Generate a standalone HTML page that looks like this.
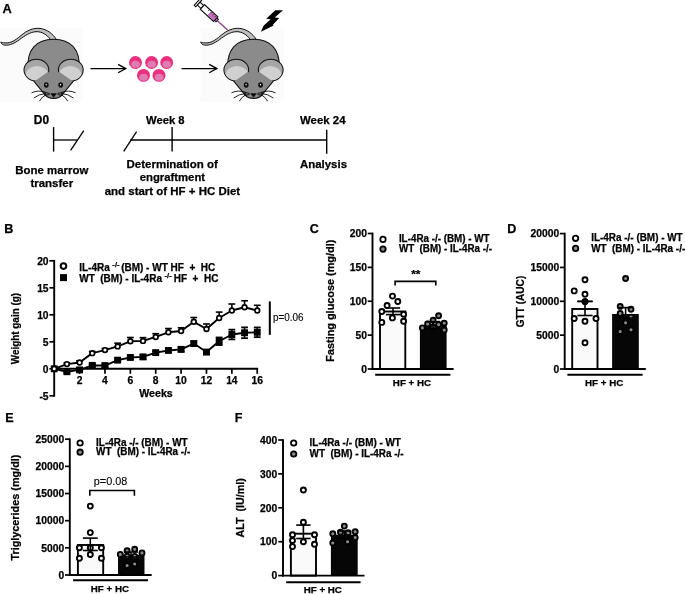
<!DOCTYPE html>
<html><head><meta charset="utf-8"><title>Figure</title>
<style>html,body{margin:0;padding:0;background:#fff;width:685px;height:594px;overflow:hidden}svg{display:block}text[font-weight="bold"]{stroke:#000;stroke-width:0.25px}text[font-weight="normal"]{stroke:#000;stroke-width:0.12px}</style>
</head><body>
<svg width="685" height="594" viewBox="0 0 685 594" font-family="'Liberation Sans', Arial, sans-serif">
<rect width="685" height="594" fill="#fff"/>
<text x="2.6" y="12.7" font-size="12.8" font-weight="bold" text-anchor="start" >A</text>
<rect x="0" y="28.3" width="82.7" height="73.5" fill="#fbfbfb"/><g transform="translate(0,0)"><path d="M56.5,39.6 C53,34 47,29.2 40,28.4 C33,27.7 27,30.5 21,35.5 C15,40.5 11,43.3 5,42.9 C3,42.8 1.6,42.4 0.8,42.1 C1.3,43.8 2.8,44.9 4.5,45.1 C10,45.7 14.5,43.2 19.6,39.6 C25.2,35.5 30,32.1 36,31.7 C42,31.4 46.8,34.6 50.6,39.6 Z" fill="#bfbfbf" stroke="#111" stroke-width="1"/><path d="M28,70 C26.3,49.5 36.5,39.2 53.6,39.2 C70.7,39.2 80.9,49.5 79.2,70 L53.6,98 Z" fill="#8b8b8b" stroke="#111" stroke-width="1.05"/><ellipse cx="36.4" cy="70.1" rx="12.4" ry="10.9" fill="#a6a6a6" stroke="#111" stroke-width="1.05"/><clipPath id="ec01"><ellipse cx="36.4" cy="70.1" rx="11.9" ry="10.4"/></clipPath><ellipse cx="37.0" cy="75.2" rx="11.4" ry="9.2" fill="#d0d0d0" clip-path="url(#ec01)"/><ellipse cx="70.8" cy="70.1" rx="12.4" ry="10.9" fill="#a6a6a6" stroke="#111" stroke-width="1.05"/><clipPath id="ec0-1"><ellipse cx="70.8" cy="70.1" rx="11.9" ry="10.4"/></clipPath><ellipse cx="70.2" cy="75.2" rx="11.4" ry="9.2" fill="#d0d0d0" clip-path="url(#ec0-1)"/><path d="M34.2,81.6 L47.4,72.2 L59.8,72.2 L73,81.6 L62.3,94.6 C58.5,99.6 48.7,99.6 44.9,94.6 Z" fill="#888"/><path d="M33.6,80.9 L44.9,94.6 C48.7,99.6 58.5,99.6 62.3,94.6 L73.6,80.9" fill="none" stroke="#111" stroke-width="1.05"/><ellipse cx="46.3" cy="85" rx="2.35" ry="2.75" fill="#0a0a0a"/><ellipse cx="46.199999999999996" cy="84.6" rx="0.6" ry="0.9" fill="#fff"/><ellipse cx="60.7" cy="85" rx="2.35" ry="2.75" fill="#0a0a0a"/><ellipse cx="60.6" cy="84.6" rx="0.6" ry="0.9" fill="#fff"/><path d="M50.8,93.6 L56.4,93.6 L54.2,96.6 C53.9,97.1 53.3,97.1 53,96.6 Z" fill="#0a0a0a" stroke="#0a0a0a" stroke-width="0.5" stroke-linejoin="round"/><path d="M45.6,92.4 Q38.6,89.6 31.6,92.8 M46.0,93.5 Q39.1,93.8 33.8,98 M46.4,94.5 Q42.0,96.5 39.4,101.2 M49.6,93.4 L44.6,92.4 M49.6,94.5 L44.6,95.4 M61.6,92.4 Q68.6,89.6 75.6,92.8 M61.2,93.5 Q68.1,93.8 73.4,98 M60.8,94.5 Q65.2,96.5 67.8,101.2 M57.6,93.4 L62.6,92.4 M57.6,94.5 L62.6,95.4" fill="none" stroke="#000" stroke-width="0.85"/></g>
<rect x="200.5" y="28.3" width="83.10000000000002" height="73.5" fill="#fbfbfb"/><g transform="translate(199.9,0)"><path d="M56.5,39.6 C53,34 47,29.2 40,28.4 C33,27.7 27,30.5 21,35.5 C15,40.5 11,43.3 5,42.9 C3,42.8 1.6,42.4 0.8,42.1 C1.3,43.8 2.8,44.9 4.5,45.1 C10,45.7 14.5,43.2 19.6,39.6 C25.2,35.5 30,32.1 36,31.7 C42,31.4 46.8,34.6 50.6,39.6 Z" fill="#bfbfbf" stroke="#111" stroke-width="1"/><path d="M28,70 C26.3,49.5 36.5,39.2 53.6,39.2 C70.7,39.2 80.9,49.5 79.2,70 L53.6,98 Z" fill="#8b8b8b" stroke="#111" stroke-width="1.05"/><ellipse cx="36.4" cy="70.1" rx="12.4" ry="10.9" fill="#a6a6a6" stroke="#111" stroke-width="1.05"/><clipPath id="ec199.91"><ellipse cx="36.4" cy="70.1" rx="11.9" ry="10.4"/></clipPath><ellipse cx="37.0" cy="75.2" rx="11.4" ry="9.2" fill="#d0d0d0" clip-path="url(#ec199.91)"/><ellipse cx="70.8" cy="70.1" rx="12.4" ry="10.9" fill="#a6a6a6" stroke="#111" stroke-width="1.05"/><clipPath id="ec199.9-1"><ellipse cx="70.8" cy="70.1" rx="11.9" ry="10.4"/></clipPath><ellipse cx="70.2" cy="75.2" rx="11.4" ry="9.2" fill="#d0d0d0" clip-path="url(#ec199.9-1)"/><path d="M34.2,81.6 L47.4,72.2 L59.8,72.2 L73,81.6 L62.3,94.6 C58.5,99.6 48.7,99.6 44.9,94.6 Z" fill="#888"/><path d="M33.6,80.9 L44.9,94.6 C48.7,99.6 58.5,99.6 62.3,94.6 L73.6,80.9" fill="none" stroke="#111" stroke-width="1.05"/><ellipse cx="46.3" cy="85" rx="2.35" ry="2.75" fill="#0a0a0a"/><ellipse cx="46.199999999999996" cy="84.6" rx="0.6" ry="0.9" fill="#fff"/><ellipse cx="60.7" cy="85" rx="2.35" ry="2.75" fill="#0a0a0a"/><ellipse cx="60.6" cy="84.6" rx="0.6" ry="0.9" fill="#fff"/><path d="M50.8,93.6 L56.4,93.6 L54.2,96.6 C53.9,97.1 53.3,97.1 53,96.6 Z" fill="#0a0a0a" stroke="#0a0a0a" stroke-width="0.5" stroke-linejoin="round"/><path d="M45.6,92.4 Q38.6,89.6 31.6,92.8 M46.0,93.5 Q39.1,93.8 33.8,98 M46.4,94.5 Q42.0,96.5 39.4,101.2 M49.6,93.4 L44.6,92.4 M49.6,94.5 L44.6,95.4 M61.6,92.4 Q68.6,89.6 75.6,92.8 M61.2,93.5 Q68.1,93.8 73.4,98 M60.8,94.5 Q65.2,96.5 67.8,101.2 M57.6,93.4 L62.6,92.4 M57.6,94.5 L62.6,95.4" fill="none" stroke="#000" stroke-width="0.85"/></g>
<line x1="90.5" y1="68.6" x2="125.8" y2="68.6" stroke="#000" stroke-width="1.3" stroke-linecap="butt"/>
<path d="M118.1,64.39999999999999 L125.8,68.6 L118.1,72.8" fill="none" stroke="#000" stroke-width="1.3" stroke-linejoin="miter"/>
<line x1="181.6" y1="68.6" x2="216.9" y2="68.6" stroke="#000" stroke-width="1.3" stroke-linecap="butt"/>
<path d="M209.20000000000002,64.39999999999999 L216.9,68.6 L209.20000000000002,72.8" fill="none" stroke="#000" stroke-width="1.3" stroke-linejoin="miter"/>
<circle cx="135.5" cy="62.5" r="6.45" fill="#e9307f"/>
<ellipse cx="135.6" cy="64.3" rx="4.3" ry="3.5" fill="#df7cb1"/>
<circle cx="151.6" cy="62.5" r="6.45" fill="#e9307f"/>
<ellipse cx="151.7" cy="64.3" rx="4.3" ry="3.5" fill="#df7cb1"/>
<circle cx="166.7" cy="62.5" r="6.45" fill="#e9307f"/>
<ellipse cx="166.79999999999998" cy="64.3" rx="4.3" ry="3.5" fill="#df7cb1"/>
<circle cx="143.5" cy="75.4" r="6.45" fill="#e9307f"/>
<ellipse cx="143.6" cy="77.2" rx="4.3" ry="3.5" fill="#df7cb1"/>
<circle cx="159" cy="75.4" r="6.45" fill="#e9307f"/>
<ellipse cx="159.1" cy="77.2" rx="4.3" ry="3.5" fill="#df7cb1"/>
<g transform="translate(209,13.05) rotate(42.5)"><line x1="11" y1="0" x2="25.2" y2="0" stroke="#8b3f86" stroke-width="1.3"/><rect x="-16.2" y="-4.3" width="2.2" height="8.6" fill="#fff" stroke="#111" stroke-width="1.1"/><rect x="-14" y="-2" width="5" height="4" fill="#fff" stroke="#111" stroke-width="1.1"/><rect x="-9" y="-3.1" width="18" height="6.2" fill="#fff" stroke="#111" stroke-width="1.2"/><rect x="0.6" y="-2.5" width="7.8" height="5" fill="#c66bbd"/><path d="M-2,-2.5 L-2,-0.8 M1.2,-2.5 L1.2,-0.8 M4.2,-2.5 L4.2,-0.8 M7,-2.5 L7,-0.8" stroke="#222" stroke-width="0.7"/><rect x="9" y="-1.7" width="2.2" height="3.4" fill="#c66bbd" stroke="#111" stroke-width="1"/></g>
<path d="M275.33,10.19 L282.99,10.19 L274.74,17.49 L279.16,18.08 L272.68,24.92 L273.74,25.45 L260.89,31.81 L263.54,25.74 L270.62,19.14 L266.2,18.67 Z" fill="#000"/>
<text x="33.8" y="124.2" font-size="11.9" font-weight="bold" text-anchor="start" textLength="15.2" lengthAdjust="spacingAndGlyphs" >D0</text>
<line x1="53.6" y1="127.1" x2="53.6" y2="151.6" stroke="#000" stroke-width="1.4" stroke-linecap="butt"/>
<line x1="53.6" y1="140" x2="77" y2="140" stroke="#000" stroke-width="1.3" stroke-linecap="butt"/>
<line x1="70.6" y1="150.3" x2="83.8" y2="130.6" stroke="#000" stroke-width="1.3" stroke-linecap="butt"/>
<line x1="123.7" y1="151.3" x2="136.6" y2="131.6" stroke="#000" stroke-width="1.3" stroke-linecap="butt"/>
<line x1="130.2" y1="140" x2="326.7" y2="140" stroke="#000" stroke-width="1.3" stroke-linecap="butt"/>
<line x1="172.1" y1="127.1" x2="172.1" y2="151.6" stroke="#000" stroke-width="1.4" stroke-linecap="butt"/>
<line x1="326.7" y1="129.8" x2="326.7" y2="153.7" stroke="#000" stroke-width="1.4" stroke-linecap="butt"/>
<text x="146" y="123.9" font-size="11.3" font-weight="bold" text-anchor="start" textLength="38.6" lengthAdjust="spacingAndGlyphs" >Week 8</text>
<text x="300" y="124.1" font-size="11.3" font-weight="bold" text-anchor="start" textLength="45.5" lengthAdjust="spacingAndGlyphs" >Week 24</text>
<text x="51.8" y="174.1" font-size="11.3" font-weight="bold" text-anchor="middle" textLength="73" lengthAdjust="spacingAndGlyphs" >Bone marrow</text>
<text x="51.8" y="187.1" font-size="11.3" font-weight="bold" text-anchor="middle" textLength="42.7" lengthAdjust="spacingAndGlyphs" >transfer</text>
<text x="172.2" y="168.3" font-size="11.3" font-weight="bold" text-anchor="middle" textLength="91.3" lengthAdjust="spacingAndGlyphs" >Determination of</text>
<text x="172.4" y="180.8" font-size="11.3" font-weight="bold" text-anchor="middle" textLength="65.3" lengthAdjust="spacingAndGlyphs" >engraftment</text>
<text x="172.4" y="194.7" font-size="11.3" font-weight="bold" text-anchor="middle" textLength="135.4" lengthAdjust="spacingAndGlyphs" >and start of HF + HC Diet</text>
<text x="323.5" y="167.6" font-size="11.3" font-weight="bold" text-anchor="middle" textLength="47" lengthAdjust="spacingAndGlyphs" >Analysis</text>
<text x="4.2" y="232.6" font-size="12.6" font-weight="bold" text-anchor="start" >B</text>
<line x1="54.2" y1="259.95" x2="54.2" y2="396.75" stroke="#000" stroke-width="1.9" stroke-linecap="butt"/>
<line x1="49.400000000000006" y1="260.8" x2="54.2" y2="260.8" stroke="#000" stroke-width="1.7" stroke-linecap="butt"/>
<text x="48.6" y="264.5" font-size="10.3" font-weight="bold" text-anchor="end" >20</text>
<line x1="49.400000000000006" y1="287.8" x2="54.2" y2="287.8" stroke="#000" stroke-width="1.7" stroke-linecap="butt"/>
<text x="48.6" y="291.5" font-size="10.3" font-weight="bold" text-anchor="end" >15</text>
<line x1="49.400000000000006" y1="314.8" x2="54.2" y2="314.8" stroke="#000" stroke-width="1.7" stroke-linecap="butt"/>
<text x="48.6" y="318.5" font-size="10.3" font-weight="bold" text-anchor="end" >10</text>
<line x1="49.400000000000006" y1="341.8" x2="54.2" y2="341.8" stroke="#000" stroke-width="1.7" stroke-linecap="butt"/>
<text x="48.6" y="345.5" font-size="10.3" font-weight="bold" text-anchor="end" >5</text>
<line x1="49.400000000000006" y1="368.8" x2="54.2" y2="368.8" stroke="#000" stroke-width="1.7" stroke-linecap="butt"/>
<text x="48.6" y="372.5" font-size="10.3" font-weight="bold" text-anchor="end" >0</text>
<line x1="49.400000000000006" y1="395.8" x2="54.2" y2="395.8" stroke="#000" stroke-width="1.7" stroke-linecap="butt"/>
<text x="48.6" y="399.5" font-size="10.3" font-weight="bold" text-anchor="end" >-5</text>
<line x1="53.25" y1="368.8" x2="258.14" y2="368.8" stroke="#000" stroke-width="2.0" stroke-linecap="butt"/>
<line x1="79.58" y1="368.8" x2="79.58" y2="373.8" stroke="#000" stroke-width="1.7" stroke-linecap="butt"/>
<text x="79.58" y="383.8" font-size="10.3" font-weight="bold" text-anchor="middle" >2</text>
<line x1="104.96" y1="368.8" x2="104.96" y2="373.8" stroke="#000" stroke-width="1.7" stroke-linecap="butt"/>
<text x="104.96" y="383.8" font-size="10.3" font-weight="bold" text-anchor="middle" >4</text>
<line x1="130.34" y1="368.8" x2="130.34" y2="373.8" stroke="#000" stroke-width="1.7" stroke-linecap="butt"/>
<text x="130.34" y="383.8" font-size="10.3" font-weight="bold" text-anchor="middle" >6</text>
<line x1="155.72" y1="368.8" x2="155.72" y2="373.8" stroke="#000" stroke-width="1.7" stroke-linecap="butt"/>
<text x="155.72" y="383.8" font-size="10.3" font-weight="bold" text-anchor="middle" >8</text>
<line x1="181.1" y1="368.8" x2="181.1" y2="373.8" stroke="#000" stroke-width="1.7" stroke-linecap="butt"/>
<text x="181.1" y="383.8" font-size="10.3" font-weight="bold" text-anchor="middle" >10</text>
<line x1="206.48" y1="368.8" x2="206.48" y2="373.8" stroke="#000" stroke-width="1.7" stroke-linecap="butt"/>
<text x="206.48" y="383.8" font-size="10.3" font-weight="bold" text-anchor="middle" >12</text>
<line x1="231.86" y1="368.8" x2="231.86" y2="373.8" stroke="#000" stroke-width="1.7" stroke-linecap="butt"/>
<text x="231.86" y="383.8" font-size="10.3" font-weight="bold" text-anchor="middle" >14</text>
<line x1="257.24" y1="368.8" x2="257.24" y2="373.8" stroke="#000" stroke-width="1.7" stroke-linecap="butt"/>
<text x="257.24" y="383.8" font-size="10.3" font-weight="bold" text-anchor="middle" >16</text>
<text x="156" y="397.2" font-size="10.6" font-weight="bold" text-anchor="middle" textLength="33.5" lengthAdjust="spacingAndGlyphs" >Weeks</text>
<text transform="translate(18.8,328.6) rotate(-90)" x="0" y="0" font-size="11.2" font-weight="bold" text-anchor="middle" textLength="71.4" lengthAdjust="spacingAndGlyphs">Weight gain (g)</text>
<polyline points="54.2,368.8 66.89,371.72 79.58,369.88 92.27,365.4 104.96,365.56 117.65,360.16 130.34,357.46 143.03,356.92 155.72,352.6 168.41,350.44 181.1,349.36 193.79,343.58 206.48,352.06 219.17,341.26 231.86,334.51 244.55,332.78 257.24,332.3" fill="none" stroke="#000" stroke-width="1.9" stroke-linejoin="round"/>
<polyline points="54.2,368.8 66.89,364.1 79.58,362.48 92.27,353.14 104.96,350.12 117.65,346.39 130.34,341.26 143.03,340.88 155.72,336.94 168.41,332.3 181.1,331.0 193.79,321.82 206.48,329.0 219.17,318.04 231.86,310.48 244.55,307.24 257.24,310.48" fill="none" stroke="#000" stroke-width="1.9" stroke-linejoin="round"/>
<rect x="50.75" y="365.35" width="6.9" height="6.9" fill="#000"/>
<line x1="66.89" y1="370.64" x2="66.89" y2="372.8" stroke="#000" stroke-width="1.6" stroke-linecap="butt"/>
<line x1="63.49" y1="370.64" x2="70.29" y2="370.64" stroke="#000" stroke-width="1.8" stroke-linecap="butt"/>
<line x1="63.49" y1="372.8" x2="70.29" y2="372.8" stroke="#000" stroke-width="1.8" stroke-linecap="butt"/>
<rect x="63.44" y="368.27" width="6.9" height="6.9" fill="#000"/>
<line x1="79.58" y1="368.8" x2="79.58" y2="370.96" stroke="#000" stroke-width="1.6" stroke-linecap="butt"/>
<line x1="76.17999999999999" y1="368.8" x2="82.98" y2="368.8" stroke="#000" stroke-width="1.8" stroke-linecap="butt"/>
<line x1="76.17999999999999" y1="370.96" x2="82.98" y2="370.96" stroke="#000" stroke-width="1.8" stroke-linecap="butt"/>
<rect x="76.13" y="366.43" width="6.9" height="6.9" fill="#000"/>
<line x1="92.27" y1="363.78" x2="92.27" y2="367.02" stroke="#000" stroke-width="1.6" stroke-linecap="butt"/>
<line x1="88.86999999999999" y1="363.78" x2="95.67" y2="363.78" stroke="#000" stroke-width="1.8" stroke-linecap="butt"/>
<line x1="88.86999999999999" y1="367.02" x2="95.67" y2="367.02" stroke="#000" stroke-width="1.8" stroke-linecap="butt"/>
<rect x="88.82" y="361.95" width="6.9" height="6.9" fill="#000"/>
<line x1="104.96" y1="363.94" x2="104.96" y2="367.18" stroke="#000" stroke-width="1.6" stroke-linecap="butt"/>
<line x1="101.55999999999999" y1="363.94" x2="108.36" y2="363.94" stroke="#000" stroke-width="1.8" stroke-linecap="butt"/>
<line x1="101.55999999999999" y1="367.18" x2="108.36" y2="367.18" stroke="#000" stroke-width="1.8" stroke-linecap="butt"/>
<rect x="101.51" y="362.11" width="6.9" height="6.9" fill="#000"/>
<line x1="117.65" y1="358.54" x2="117.65" y2="361.78" stroke="#000" stroke-width="1.6" stroke-linecap="butt"/>
<line x1="114.25" y1="358.54" x2="121.05000000000001" y2="358.54" stroke="#000" stroke-width="1.8" stroke-linecap="butt"/>
<line x1="114.25" y1="361.78" x2="121.05000000000001" y2="361.78" stroke="#000" stroke-width="1.8" stroke-linecap="butt"/>
<rect x="114.2" y="356.71" width="6.9" height="6.9" fill="#000"/>
<line x1="130.34" y1="355.84" x2="130.34" y2="359.08" stroke="#000" stroke-width="1.6" stroke-linecap="butt"/>
<line x1="126.94" y1="355.84" x2="133.74" y2="355.84" stroke="#000" stroke-width="1.8" stroke-linecap="butt"/>
<line x1="126.94" y1="359.08" x2="133.74" y2="359.08" stroke="#000" stroke-width="1.8" stroke-linecap="butt"/>
<rect x="126.89" y="354.01" width="6.9" height="6.9" fill="#000"/>
<line x1="143.03" y1="354.76" x2="143.03" y2="359.08" stroke="#000" stroke-width="1.6" stroke-linecap="butt"/>
<line x1="139.63" y1="354.76" x2="146.43" y2="354.76" stroke="#000" stroke-width="1.8" stroke-linecap="butt"/>
<line x1="139.63" y1="359.08" x2="146.43" y2="359.08" stroke="#000" stroke-width="1.8" stroke-linecap="butt"/>
<rect x="139.58" y="353.47" width="6.9" height="6.9" fill="#000"/>
<line x1="155.72" y1="350.98" x2="155.72" y2="354.22" stroke="#000" stroke-width="1.6" stroke-linecap="butt"/>
<line x1="152.32" y1="350.98" x2="159.12" y2="350.98" stroke="#000" stroke-width="1.8" stroke-linecap="butt"/>
<line x1="152.32" y1="354.22" x2="159.12" y2="354.22" stroke="#000" stroke-width="1.8" stroke-linecap="butt"/>
<rect x="152.27" y="349.15" width="6.9" height="6.9" fill="#000"/>
<line x1="168.41" y1="348.82" x2="168.41" y2="352.06" stroke="#000" stroke-width="1.6" stroke-linecap="butt"/>
<line x1="165.01" y1="348.82" x2="171.81" y2="348.82" stroke="#000" stroke-width="1.8" stroke-linecap="butt"/>
<line x1="165.01" y1="352.06" x2="171.81" y2="352.06" stroke="#000" stroke-width="1.8" stroke-linecap="butt"/>
<rect x="164.96" y="346.99" width="6.9" height="6.9" fill="#000"/>
<line x1="181.1" y1="347.2" x2="181.1" y2="351.52" stroke="#000" stroke-width="1.6" stroke-linecap="butt"/>
<line x1="177.7" y1="347.2" x2="184.5" y2="347.2" stroke="#000" stroke-width="1.8" stroke-linecap="butt"/>
<line x1="177.7" y1="351.52" x2="184.5" y2="351.52" stroke="#000" stroke-width="1.8" stroke-linecap="butt"/>
<rect x="177.65" y="345.91" width="6.9" height="6.9" fill="#000"/>
<line x1="193.79" y1="341.42" x2="193.79" y2="345.74" stroke="#000" stroke-width="1.6" stroke-linecap="butt"/>
<line x1="190.39" y1="341.42" x2="197.19" y2="341.42" stroke="#000" stroke-width="1.8" stroke-linecap="butt"/>
<line x1="190.39" y1="345.74" x2="197.19" y2="345.74" stroke="#000" stroke-width="1.8" stroke-linecap="butt"/>
<rect x="190.34" y="340.13" width="6.9" height="6.9" fill="#000"/>
<line x1="206.48" y1="349.9" x2="206.48" y2="354.22" stroke="#000" stroke-width="1.6" stroke-linecap="butt"/>
<line x1="203.07999999999998" y1="349.9" x2="209.88" y2="349.9" stroke="#000" stroke-width="1.8" stroke-linecap="butt"/>
<line x1="203.07999999999998" y1="354.22" x2="209.88" y2="354.22" stroke="#000" stroke-width="1.8" stroke-linecap="butt"/>
<rect x="203.03" y="348.61" width="6.9" height="6.9" fill="#000"/>
<line x1="219.17" y1="337.48" x2="219.17" y2="345.04" stroke="#000" stroke-width="1.6" stroke-linecap="butt"/>
<line x1="215.76999999999998" y1="337.48" x2="222.57" y2="337.48" stroke="#000" stroke-width="1.8" stroke-linecap="butt"/>
<line x1="215.76999999999998" y1="345.04" x2="222.57" y2="345.04" stroke="#000" stroke-width="1.8" stroke-linecap="butt"/>
<rect x="215.72" y="337.81" width="6.9" height="6.9" fill="#000"/>
<line x1="231.86" y1="329.65" x2="231.86" y2="339.37" stroke="#000" stroke-width="1.6" stroke-linecap="butt"/>
<line x1="228.46" y1="329.65" x2="235.26000000000002" y2="329.65" stroke="#000" stroke-width="1.8" stroke-linecap="butt"/>
<line x1="228.46" y1="339.37" x2="235.26000000000002" y2="339.37" stroke="#000" stroke-width="1.8" stroke-linecap="butt"/>
<rect x="228.41" y="331.06" width="6.9" height="6.9" fill="#000"/>
<line x1="244.55" y1="327.38" x2="244.55" y2="338.18" stroke="#000" stroke-width="1.6" stroke-linecap="butt"/>
<line x1="241.15" y1="327.38" x2="247.95000000000002" y2="327.38" stroke="#000" stroke-width="1.8" stroke-linecap="butt"/>
<line x1="241.15" y1="338.18" x2="247.95000000000002" y2="338.18" stroke="#000" stroke-width="1.8" stroke-linecap="butt"/>
<rect x="241.1" y="329.33" width="6.9" height="6.9" fill="#000"/>
<line x1="257.24" y1="327.44" x2="257.24" y2="337.16" stroke="#000" stroke-width="1.6" stroke-linecap="butt"/>
<line x1="253.84" y1="327.44" x2="260.64" y2="327.44" stroke="#000" stroke-width="1.8" stroke-linecap="butt"/>
<line x1="253.84" y1="337.16" x2="260.64" y2="337.16" stroke="#000" stroke-width="1.8" stroke-linecap="butt"/>
<rect x="253.79" y="328.85" width="6.9" height="6.9" fill="#000"/>
<circle cx="54.2" cy="368.8" r="2.35" fill="#fff" stroke="#000" stroke-width="1.7"/>
<line x1="66.89" y1="363.02" x2="66.89" y2="364.1" stroke="#000" stroke-width="1.6" stroke-linecap="butt"/>
<line x1="63.49" y1="363.02" x2="70.29" y2="363.02" stroke="#000" stroke-width="1.6" stroke-linecap="butt"/>
<circle cx="66.89" cy="364.1" r="2.35" fill="#fff" stroke="#000" stroke-width="1.7"/>
<line x1="79.58" y1="360.86" x2="79.58" y2="362.48" stroke="#000" stroke-width="1.6" stroke-linecap="butt"/>
<line x1="76.17999999999999" y1="360.86" x2="82.98" y2="360.86" stroke="#000" stroke-width="1.6" stroke-linecap="butt"/>
<circle cx="79.58" cy="362.48" r="2.35" fill="#fff" stroke="#000" stroke-width="1.7"/>
<line x1="92.27" y1="351.52" x2="92.27" y2="353.14" stroke="#000" stroke-width="1.6" stroke-linecap="butt"/>
<line x1="88.86999999999999" y1="351.52" x2="95.67" y2="351.52" stroke="#000" stroke-width="1.6" stroke-linecap="butt"/>
<circle cx="92.27" cy="353.14" r="2.35" fill="#fff" stroke="#000" stroke-width="1.7"/>
<line x1="104.96" y1="348.5" x2="104.96" y2="350.12" stroke="#000" stroke-width="1.6" stroke-linecap="butt"/>
<line x1="101.55999999999999" y1="348.5" x2="108.36" y2="348.5" stroke="#000" stroke-width="1.6" stroke-linecap="butt"/>
<circle cx="104.96" cy="350.12" r="2.35" fill="#fff" stroke="#000" stroke-width="1.7"/>
<line x1="117.65" y1="343.15" x2="117.65" y2="346.39" stroke="#000" stroke-width="1.6" stroke-linecap="butt"/>
<line x1="114.25" y1="343.15" x2="121.05000000000001" y2="343.15" stroke="#000" stroke-width="1.6" stroke-linecap="butt"/>
<circle cx="117.65" cy="346.39" r="2.35" fill="#fff" stroke="#000" stroke-width="1.7"/>
<line x1="130.34" y1="337.48" x2="130.34" y2="341.26" stroke="#000" stroke-width="1.6" stroke-linecap="butt"/>
<line x1="126.94" y1="337.48" x2="133.74" y2="337.48" stroke="#000" stroke-width="1.6" stroke-linecap="butt"/>
<circle cx="130.34" cy="341.26" r="2.35" fill="#fff" stroke="#000" stroke-width="1.7"/>
<line x1="143.03" y1="337.64" x2="143.03" y2="340.88" stroke="#000" stroke-width="1.6" stroke-linecap="butt"/>
<line x1="139.63" y1="337.64" x2="146.43" y2="337.64" stroke="#000" stroke-width="1.6" stroke-linecap="butt"/>
<circle cx="143.03" cy="340.88" r="2.35" fill="#fff" stroke="#000" stroke-width="1.7"/>
<line x1="155.72" y1="333.7" x2="155.72" y2="336.94" stroke="#000" stroke-width="1.6" stroke-linecap="butt"/>
<line x1="152.32" y1="333.7" x2="159.12" y2="333.7" stroke="#000" stroke-width="1.6" stroke-linecap="butt"/>
<circle cx="155.72" cy="336.94" r="2.35" fill="#fff" stroke="#000" stroke-width="1.7"/>
<line x1="168.41" y1="328.52" x2="168.41" y2="332.3" stroke="#000" stroke-width="1.6" stroke-linecap="butt"/>
<line x1="165.01" y1="328.52" x2="171.81" y2="328.52" stroke="#000" stroke-width="1.6" stroke-linecap="butt"/>
<circle cx="168.41" cy="332.3" r="2.35" fill="#fff" stroke="#000" stroke-width="1.7"/>
<line x1="181.1" y1="327.76" x2="181.1" y2="331.0" stroke="#000" stroke-width="1.6" stroke-linecap="butt"/>
<line x1="177.7" y1="327.76" x2="184.5" y2="327.76" stroke="#000" stroke-width="1.6" stroke-linecap="butt"/>
<circle cx="181.1" cy="331.0" r="2.35" fill="#fff" stroke="#000" stroke-width="1.7"/>
<line x1="193.79" y1="317.5" x2="193.79" y2="321.82" stroke="#000" stroke-width="1.6" stroke-linecap="butt"/>
<line x1="190.39" y1="317.5" x2="197.19" y2="317.5" stroke="#000" stroke-width="1.6" stroke-linecap="butt"/>
<circle cx="193.79" cy="321.82" r="2.35" fill="#fff" stroke="#000" stroke-width="1.7"/>
<line x1="206.48" y1="323.98" x2="206.48" y2="329.0" stroke="#000" stroke-width="1.6" stroke-linecap="butt"/>
<line x1="203.07999999999998" y1="323.98" x2="209.88" y2="323.98" stroke="#000" stroke-width="1.6" stroke-linecap="butt"/>
<circle cx="206.48" cy="329.0" r="2.35" fill="#fff" stroke="#000" stroke-width="1.7"/>
<line x1="219.17" y1="312.1" x2="219.17" y2="318.04" stroke="#000" stroke-width="1.6" stroke-linecap="butt"/>
<line x1="215.76999999999998" y1="312.1" x2="222.57" y2="312.1" stroke="#000" stroke-width="1.6" stroke-linecap="butt"/>
<circle cx="219.17" cy="318.04" r="2.35" fill="#fff" stroke="#000" stroke-width="1.7"/>
<line x1="231.86" y1="304.0" x2="231.86" y2="310.48" stroke="#000" stroke-width="1.6" stroke-linecap="butt"/>
<line x1="228.46" y1="304.0" x2="235.26000000000002" y2="304.0" stroke="#000" stroke-width="1.6" stroke-linecap="butt"/>
<circle cx="231.86" cy="310.48" r="2.35" fill="#fff" stroke="#000" stroke-width="1.7"/>
<line x1="244.55" y1="300.76" x2="244.55" y2="307.24" stroke="#000" stroke-width="1.6" stroke-linecap="butt"/>
<line x1="241.15" y1="300.76" x2="247.95000000000002" y2="300.76" stroke="#000" stroke-width="1.6" stroke-linecap="butt"/>
<circle cx="244.55" cy="307.24" r="2.35" fill="#fff" stroke="#000" stroke-width="1.7"/>
<line x1="257.24" y1="305.3" x2="257.24" y2="310.48" stroke="#000" stroke-width="1.6" stroke-linecap="butt"/>
<line x1="253.84" y1="305.3" x2="260.64" y2="305.3" stroke="#000" stroke-width="1.6" stroke-linecap="butt"/>
<circle cx="257.24" cy="310.48" r="2.35" fill="#fff" stroke="#000" stroke-width="1.7"/>
<circle cx="63.5" cy="266.1" r="2.8" fill="#fff" stroke="#000" stroke-width="2"/>
<rect x="60" y="274.1" width="7" height="7" fill="#000"/>
<text x="79.2" y="271.4" font-size="10" font-weight="bold">IL-4Ra<tspan dx="2.6" dy="-4.4" font-size="7.6">-/-</tspan><tspan dx="1.6" dy="4.4">(BM) - WT HF&#160; +&#160; HC</tspan></text>
<text x="79.2" y="282.3" font-size="10" font-weight="bold">WT&#160; (BM) - IL-4Ra<tspan dx="2.6" dy="-4.4" font-size="7.6">-/-</tspan><tspan dx="2" dy="4.4">HF&#160; +&#160; HC</tspan></text>
<line x1="269.8" y1="301.4" x2="269.8" y2="334.8" stroke="#000" stroke-width="2.0" stroke-linecap="butt"/>
<text x="272.9" y="320.9" font-size="10.3" font-weight="normal" text-anchor="start" textLength="30.7" lengthAdjust="spacingAndGlyphs" >p=0.06</text>
<rect x="380" y="311.5" width="25.3" height="57.5" fill="#fafafa" stroke="#000" stroke-width="1.9"/>
<rect x="419.9" y="325" width="26.7" height="44" fill="#060606"/>
<line x1="372.5" y1="232.65" x2="372.5" y2="369.95" stroke="#000" stroke-width="1.9" stroke-linecap="butt"/>
<line x1="367.7" y1="233.5" x2="372.5" y2="233.5" stroke="#000" stroke-width="1.7" stroke-linecap="butt"/>
<text x="367" y="237.2" font-size="10.3" font-weight="bold" text-anchor="end" >200</text>
<line x1="367.7" y1="267.38" x2="372.5" y2="267.38" stroke="#000" stroke-width="1.7" stroke-linecap="butt"/>
<text x="367" y="271.08" font-size="10.3" font-weight="bold" text-anchor="end" >150</text>
<line x1="367.7" y1="301.25" x2="372.5" y2="301.25" stroke="#000" stroke-width="1.7" stroke-linecap="butt"/>
<text x="367" y="304.95" font-size="10.3" font-weight="bold" text-anchor="end" >100</text>
<line x1="367.7" y1="335.12" x2="372.5" y2="335.12" stroke="#000" stroke-width="1.7" stroke-linecap="butt"/>
<text x="367" y="338.82" font-size="10.3" font-weight="bold" text-anchor="end" >50</text>
<line x1="367.7" y1="369.0" x2="372.5" y2="369.0" stroke="#000" stroke-width="1.7" stroke-linecap="butt"/>
<text x="367" y="372.7" font-size="10.3" font-weight="bold" text-anchor="end" >0</text>
<line x1="371.55" y1="369" x2="453.6" y2="369" stroke="#000" stroke-width="1.9" stroke-linecap="butt"/>
<line x1="375.2" y1="374.7" x2="450.4" y2="374.7" stroke="#000" stroke-width="2.0" stroke-linecap="butt"/>
<text x="412" y="386.2" font-size="9.9" font-weight="bold" text-anchor="middle" textLength="38.3" lengthAdjust="spacingAndGlyphs" >HF + HC</text>
<circle cx="392.5" cy="296.1" r="2.5" fill="#fff" stroke="#000" stroke-width="1.9"/>
<circle cx="397.8" cy="301.5" r="2.5" fill="#fff" stroke="#000" stroke-width="1.9"/>
<circle cx="387.1" cy="305.5" r="2.5" fill="#fff" stroke="#000" stroke-width="1.9"/>
<circle cx="381.8" cy="311.5" r="2.5" fill="#fff" stroke="#000" stroke-width="1.9"/>
<circle cx="403.6" cy="314.2" r="2.5" fill="#fff" stroke="#000" stroke-width="1.9"/>
<circle cx="392.4" cy="317.9" r="2.5" fill="#fff" stroke="#000" stroke-width="1.9"/>
<circle cx="381.8" cy="322.4" r="2.5" fill="#fff" stroke="#000" stroke-width="1.9"/>
<circle cx="403.6" cy="321.2" r="2.5" fill="#fff" stroke="#000" stroke-width="1.9"/>
<circle cx="438.6" cy="315.8" r="2.5" fill="#8c8c8c" stroke="#000" stroke-width="1.9"/>
<circle cx="433.1" cy="320.2" r="2.5" fill="#8c8c8c" stroke="#000" stroke-width="1.9"/>
<circle cx="427.6" cy="323.9" r="2.5" fill="#8c8c8c" stroke="#000" stroke-width="1.9"/>
<circle cx="422.4" cy="327.9" r="2.5" fill="#8c8c8c" stroke="#000" stroke-width="1.9"/>
<circle cx="444.2" cy="323.1" r="2.5" fill="#8c8c8c" stroke="#000" stroke-width="1.9"/>
<circle cx="444.2" cy="330" r="2.5" fill="#8c8c8c" stroke="#000" stroke-width="1.9"/>
<circle cx="438.6" cy="324.6" r="2.5" fill="#8c8c8c" stroke="#000" stroke-width="1.9"/>
<circle cx="433.1" cy="327.3" r="2.5" fill="#8c8c8c" stroke="#000" stroke-width="1.9"/>
<line x1="393" y1="308" x2="393" y2="314.6" stroke="#000" stroke-width="1.6" stroke-linecap="butt"/>
<line x1="385.9" y1="308" x2="400.1" y2="308" stroke="#000" stroke-width="1.6" stroke-linecap="butt"/>
<line x1="385.9" y1="314.6" x2="400.1" y2="314.6" stroke="#000" stroke-width="1.6" stroke-linecap="butt"/>
<line x1="433.1" y1="321.6" x2="433.1" y2="328.4" stroke="#000" stroke-width="1.6" stroke-linecap="butt"/>
<line x1="426.1" y1="321.6" x2="440.1" y2="321.6" stroke="#000" stroke-width="1.6" stroke-linecap="butt"/>
<line x1="426.1" y1="328.4" x2="440.1" y2="328.4" stroke="#000" stroke-width="1.6" stroke-linecap="butt"/>
<circle cx="383" cy="239.4" r="2.7" fill="#fff" stroke="#000" stroke-width="1.8"/>
<circle cx="383" cy="249.1" r="2.7" fill="#8c8c8c" stroke="#000" stroke-width="1.8"/>
<text x="398.9" y="241.6" font-size="10" font-weight="bold" text-anchor="start" textLength="90.7" lengthAdjust="spacingAndGlyphs" >IL-4Ra -/- (BM) - WT</text>
<text x="398.9" y="251.7" font-size="10" font-weight="bold" text-anchor="start" textLength="93.1" lengthAdjust="spacingAndGlyphs" >WT&#160; (BM) - IL-4Ra -/-</text>
<text x="309.7" y="232.6" font-size="12.6" font-weight="bold" text-anchor="start" >C</text>
<text transform="translate(333.5,300.7) rotate(-90)" x="0" y="0" font-size="11.2" font-weight="bold" text-anchor="middle" textLength="122" lengthAdjust="spacingAndGlyphs">Fasting glucose (mg/dl)</text>
<path d="M395.1,285.5 L395.1,281.4 L435.8,281.4 L435.8,285.5" fill="none" stroke="#000" stroke-width="1.6"/>
<text x="415.8" y="278.2" font-size="11" font-weight="bold" text-anchor="middle" textLength="9.3" lengthAdjust="spacingAndGlyphs" >**</text>
<rect x="572.2" y="309" width="25.3" height="60" fill="#fafafa" stroke="#000" stroke-width="1.9"/>
<rect x="612.1" y="314" width="26.7" height="55" fill="#060606"/>
<line x1="564.7" y1="232.75" x2="564.7" y2="369.95" stroke="#000" stroke-width="1.9" stroke-linecap="butt"/>
<line x1="559.9000000000001" y1="233.6" x2="564.7" y2="233.6" stroke="#000" stroke-width="1.7" stroke-linecap="butt"/>
<text x="559.2" y="237.3" font-size="10.3" font-weight="bold" text-anchor="end" >20000</text>
<line x1="559.9000000000001" y1="267.45" x2="564.7" y2="267.45" stroke="#000" stroke-width="1.7" stroke-linecap="butt"/>
<text x="559.2" y="271.15" font-size="10.3" font-weight="bold" text-anchor="end" >15000</text>
<line x1="559.9000000000001" y1="301.3" x2="564.7" y2="301.3" stroke="#000" stroke-width="1.7" stroke-linecap="butt"/>
<text x="559.2" y="305.0" font-size="10.3" font-weight="bold" text-anchor="end" >10000</text>
<line x1="559.9000000000001" y1="335.15" x2="564.7" y2="335.15" stroke="#000" stroke-width="1.7" stroke-linecap="butt"/>
<text x="559.2" y="338.85" font-size="10.3" font-weight="bold" text-anchor="end" >5000</text>
<line x1="559.9000000000001" y1="369.0" x2="564.7" y2="369.0" stroke="#000" stroke-width="1.7" stroke-linecap="butt"/>
<text x="559.2" y="372.7" font-size="10.3" font-weight="bold" text-anchor="end" >0</text>
<line x1="563.75" y1="369" x2="645.8" y2="369" stroke="#000" stroke-width="1.9" stroke-linecap="butt"/>
<line x1="567.4" y1="374.7" x2="642.6" y2="374.7" stroke="#000" stroke-width="2.0" stroke-linecap="butt"/>
<text x="604.2" y="386.2" font-size="9.9" font-weight="bold" text-anchor="middle" textLength="38.3" lengthAdjust="spacingAndGlyphs" >HF + HC</text>
<circle cx="585" cy="279.7" r="2.5" fill="#fff" stroke="#000" stroke-width="1.9"/>
<circle cx="574.2" cy="290.9" r="2.5" fill="#fff" stroke="#000" stroke-width="1.9"/>
<circle cx="585" cy="294.2" r="2.5" fill="#fff" stroke="#000" stroke-width="1.9"/>
<circle cx="585" cy="301.6" r="2.5" fill="#fff" stroke="#000" stroke-width="1.9"/>
<circle cx="574.2" cy="318.5" r="2.5" fill="#fff" stroke="#000" stroke-width="1.9"/>
<circle cx="585" cy="321.2" r="2.5" fill="#fff" stroke="#000" stroke-width="1.9"/>
<circle cx="596" cy="318.5" r="2.5" fill="#fff" stroke="#000" stroke-width="1.9"/>
<circle cx="585" cy="342.7" r="2.5" fill="#fff" stroke="#000" stroke-width="1.9"/>
<circle cx="625.6" cy="278.5" r="2.5" fill="#8c8c8c" stroke="#000" stroke-width="1.9"/>
<circle cx="620.2" cy="306.4" r="2.5" fill="#8c8c8c" stroke="#000" stroke-width="1.9"/>
<circle cx="631" cy="309.3" r="2.5" fill="#8c8c8c" stroke="#000" stroke-width="1.9"/>
<circle cx="620.2" cy="313.4" r="2.5" fill="#8c8c8c" stroke="#000" stroke-width="1.9"/>
<circle cx="631" cy="317.1" r="2.5" fill="#8c8c8c" stroke="#000" stroke-width="1.9"/>
<circle cx="625.6" cy="322.8" r="2.5" fill="#8c8c8c" stroke="#000" stroke-width="1.9"/>
<circle cx="620.2" cy="331.5" r="2.5" fill="#8c8c8c" stroke="#000" stroke-width="1.9"/>
<circle cx="631" cy="329.7" r="2.5" fill="#8c8c8c" stroke="#000" stroke-width="1.9"/>
<line x1="585" y1="301.4" x2="585" y2="315.5" stroke="#000" stroke-width="1.6" stroke-linecap="butt"/>
<line x1="577.4" y1="301.4" x2="592.6" y2="301.4" stroke="#000" stroke-width="1.6" stroke-linecap="butt"/>
<line x1="577.4" y1="315.5" x2="592.6" y2="315.5" stroke="#000" stroke-width="1.6" stroke-linecap="butt"/>
<line x1="625.6" y1="307.6" x2="625.6" y2="318" stroke="#000" stroke-width="1.6" stroke-linecap="butt"/>
<line x1="618.1" y1="307.6" x2="633.1" y2="307.6" stroke="#000" stroke-width="1.6" stroke-linecap="butt"/>
<line x1="618.1" y1="318" x2="633.1" y2="318" stroke="#000" stroke-width="1.6" stroke-linecap="butt"/>
<circle cx="575.6" cy="238.3" r="2.7" fill="#fff" stroke="#000" stroke-width="1.8"/>
<circle cx="575.6" cy="248.4" r="2.7" fill="#8c8c8c" stroke="#000" stroke-width="1.8"/>
<text x="591.2" y="240.9" font-size="10" font-weight="bold" text-anchor="start" textLength="91.5" lengthAdjust="spacingAndGlyphs" >IL-4Ra -/- (BM) - WT</text>
<text x="591.2" y="251.5" font-size="10" font-weight="bold" text-anchor="start" textLength="94" lengthAdjust="spacingAndGlyphs" >WT&#160; (BM) - IL-4Ra -/-</text>
<text x="507.2" y="232.6" font-size="12.6" font-weight="bold" text-anchor="start" >D</text>
<text transform="translate(524.1,301.5) rotate(-90)" x="0" y="0" font-size="11.2" font-weight="bold" text-anchor="middle" textLength="51.5" lengthAdjust="spacingAndGlyphs">GTT (AUC)</text>
<circle cx="585" cy="301.6" r="2.4" fill="#1a1a1a" stroke="#000" stroke-width="1.9"/>
<line x1="577.4" y1="301.4" x2="592.6" y2="301.4" stroke="#000" stroke-width="1.6" stroke-linecap="butt"/>
<rect x="77.9" y="545" width="25.3" height="30" fill="#fafafa" stroke="#000" stroke-width="1.9"/>
<rect x="118" y="554.8" width="26.5" height="20.2" fill="#060606"/>
<line x1="69.8" y1="438.34999999999997" x2="69.8" y2="575.95" stroke="#000" stroke-width="1.9" stroke-linecap="butt"/>
<line x1="65.0" y1="439.2" x2="69.8" y2="439.2" stroke="#000" stroke-width="1.7" stroke-linecap="butt"/>
<text x="64.2" y="442.9" font-size="10.3" font-weight="bold" text-anchor="end" >25000</text>
<line x1="65.0" y1="466.36" x2="69.8" y2="466.36" stroke="#000" stroke-width="1.7" stroke-linecap="butt"/>
<text x="64.2" y="470.06" font-size="10.3" font-weight="bold" text-anchor="end" >20000</text>
<line x1="65.0" y1="493.52" x2="69.8" y2="493.52" stroke="#000" stroke-width="1.7" stroke-linecap="butt"/>
<text x="64.2" y="497.22" font-size="10.3" font-weight="bold" text-anchor="end" >15000</text>
<line x1="65.0" y1="520.68" x2="69.8" y2="520.68" stroke="#000" stroke-width="1.7" stroke-linecap="butt"/>
<text x="64.2" y="524.38" font-size="10.3" font-weight="bold" text-anchor="end" >10000</text>
<line x1="65.0" y1="547.84" x2="69.8" y2="547.84" stroke="#000" stroke-width="1.7" stroke-linecap="butt"/>
<text x="64.2" y="551.54" font-size="10.3" font-weight="bold" text-anchor="end" >5000</text>
<line x1="65.0" y1="575.0" x2="69.8" y2="575.0" stroke="#000" stroke-width="1.7" stroke-linecap="butt"/>
<text x="64.2" y="578.7" font-size="10.3" font-weight="bold" text-anchor="end" >0</text>
<line x1="68.85" y1="575" x2="151.7" y2="575" stroke="#000" stroke-width="1.9" stroke-linecap="butt"/>
<line x1="73.1" y1="580.3" x2="148" y2="580.3" stroke="#000" stroke-width="2.0" stroke-linecap="butt"/>
<text x="109.9" y="591.9" font-size="9.9" font-weight="bold" text-anchor="middle" textLength="38.3" lengthAdjust="spacingAndGlyphs" >HF + HC</text>
<circle cx="90.3" cy="506.1" r="2.5" fill="#fff" stroke="#000" stroke-width="1.9"/>
<circle cx="90.3" cy="532.6" r="2.5" fill="#fff" stroke="#000" stroke-width="1.9"/>
<circle cx="79.4" cy="547.7" r="2.5" fill="#fff" stroke="#000" stroke-width="1.9"/>
<circle cx="101.4" cy="547.7" r="2.5" fill="#fff" stroke="#000" stroke-width="1.9"/>
<circle cx="90.3" cy="547.7" r="2.5" fill="#fff" stroke="#000" stroke-width="1.9"/>
<circle cx="90.3" cy="554.5" r="2.5" fill="#fff" stroke="#000" stroke-width="1.9"/>
<circle cx="79.4" cy="558.3" r="2.5" fill="#fff" stroke="#000" stroke-width="1.9"/>
<circle cx="101.4" cy="558.3" r="2.5" fill="#fff" stroke="#000" stroke-width="1.9"/>
<circle cx="120.3" cy="554.4" r="2.5" fill="#8c8c8c" stroke="#000" stroke-width="1.9"/>
<circle cx="127.1" cy="550.8" r="2.5" fill="#8c8c8c" stroke="#000" stroke-width="1.9"/>
<circle cx="134.7" cy="549.2" r="2.5" fill="#8c8c8c" stroke="#000" stroke-width="1.9"/>
<circle cx="142" cy="552.9" r="2.5" fill="#8c8c8c" stroke="#000" stroke-width="1.9"/>
<circle cx="127.1" cy="565.5" r="2.5" fill="#8c8c8c" stroke="#000" stroke-width="1.9"/>
<circle cx="134.7" cy="564" r="2.5" fill="#8c8c8c" stroke="#000" stroke-width="1.9"/>
<circle cx="127.1" cy="556.4" r="2.5" fill="#8c8c8c" stroke="#000" stroke-width="1.9"/>
<circle cx="134.7" cy="556.4" r="2.5" fill="#8c8c8c" stroke="#000" stroke-width="1.9"/>
<line x1="90.3" y1="538.1" x2="90.3" y2="550.5" stroke="#000" stroke-width="1.6" stroke-linecap="butt"/>
<line x1="82.85" y1="538.1" x2="97.75" y2="538.1" stroke="#000" stroke-width="1.6" stroke-linecap="butt"/>
<line x1="82.85" y1="550.5" x2="97.75" y2="550.5" stroke="#000" stroke-width="1.6" stroke-linecap="butt"/>
<line x1="131" y1="552" x2="131" y2="557" stroke="#000" stroke-width="1.6" stroke-linecap="butt"/>
<line x1="124.0" y1="552" x2="138.0" y2="552" stroke="#000" stroke-width="1.6" stroke-linecap="butt"/>
<line x1="124.0" y1="557" x2="138.0" y2="557" stroke="#000" stroke-width="1.6" stroke-linecap="butt"/>
<circle cx="80.1" cy="443" r="2.7" fill="#fff" stroke="#000" stroke-width="1.8"/>
<circle cx="80.1" cy="452.2" r="2.7" fill="#8c8c8c" stroke="#000" stroke-width="1.8"/>
<text x="96.1" y="445.8" font-size="10" font-weight="bold" text-anchor="start" textLength="91.5" lengthAdjust="spacingAndGlyphs" >IL-4Ra -/- (BM) - WT</text>
<text x="96.1" y="455.4" font-size="10" font-weight="bold" text-anchor="start" textLength="94.1" lengthAdjust="spacingAndGlyphs" >WT&#160; (BM) - IL-4Ra -/-</text>
<text x="5.2" y="421.6" font-size="12.6" font-weight="bold" text-anchor="start" >E</text>
<text transform="translate(19.0,507.6) rotate(-90)" x="0" y="0" font-size="11.2" font-weight="bold" text-anchor="middle" textLength="106" lengthAdjust="spacingAndGlyphs">Triglycerides (mg/dl)</text>
<path d="M89.8,495.7 L89.8,490.5 L134.4,490.5 L134.4,495.7" fill="none" stroke="#000" stroke-width="1.6"/>
<text x="93.8" y="484.6" font-size="11" font-weight="normal" text-anchor="start" textLength="33.4" lengthAdjust="spacingAndGlyphs" >p=0.08</text>
<rect x="290.9" y="533.7" width="25.1" height="41.9" fill="#fafafa" stroke="#000" stroke-width="1.9"/>
<rect x="330.9" y="534.7" width="26.8" height="40.9" fill="#060606"/>
<line x1="283" y1="439.15" x2="283" y2="576.5500000000001" stroke="#000" stroke-width="1.9" stroke-linecap="butt"/>
<line x1="278.2" y1="440.0" x2="283" y2="440.0" stroke="#000" stroke-width="1.7" stroke-linecap="butt"/>
<text x="277.2" y="443.7" font-size="10.3" font-weight="bold" text-anchor="end" >400</text>
<line x1="278.2" y1="473.9" x2="283" y2="473.9" stroke="#000" stroke-width="1.7" stroke-linecap="butt"/>
<text x="277.2" y="477.6" font-size="10.3" font-weight="bold" text-anchor="end" >300</text>
<line x1="278.2" y1="507.8" x2="283" y2="507.8" stroke="#000" stroke-width="1.7" stroke-linecap="butt"/>
<text x="277.2" y="511.5" font-size="10.3" font-weight="bold" text-anchor="end" >200</text>
<line x1="278.2" y1="541.7" x2="283" y2="541.7" stroke="#000" stroke-width="1.7" stroke-linecap="butt"/>
<text x="277.2" y="545.4" font-size="10.3" font-weight="bold" text-anchor="end" >100</text>
<line x1="278.2" y1="575.6" x2="283" y2="575.6" stroke="#000" stroke-width="1.7" stroke-linecap="butt"/>
<text x="277.2" y="579.3" font-size="10.3" font-weight="bold" text-anchor="end" >0</text>
<line x1="282.05" y1="575.6" x2="364.5" y2="575.6" stroke="#000" stroke-width="1.9" stroke-linecap="butt"/>
<line x1="286.1" y1="582.2" x2="360.6" y2="582.2" stroke="#000" stroke-width="2.0" stroke-linecap="butt"/>
<text x="322.8" y="593.3" font-size="9.9" font-weight="bold" text-anchor="middle" textLength="38.3" lengthAdjust="spacingAndGlyphs" >HF + HC</text>
<circle cx="303.4" cy="490" r="2.5" fill="#fff" stroke="#000" stroke-width="1.9"/>
<circle cx="303.4" cy="522.2" r="2.5" fill="#fff" stroke="#000" stroke-width="1.9"/>
<circle cx="292.5" cy="534.7" r="2.5" fill="#fff" stroke="#000" stroke-width="1.9"/>
<circle cx="314.5" cy="534.7" r="2.5" fill="#fff" stroke="#000" stroke-width="1.9"/>
<circle cx="292.5" cy="540.5" r="2.5" fill="#fff" stroke="#000" stroke-width="1.9"/>
<circle cx="303.4" cy="541.8" r="2.5" fill="#fff" stroke="#000" stroke-width="1.9"/>
<circle cx="292.5" cy="546.6" r="2.5" fill="#fff" stroke="#000" stroke-width="1.9"/>
<circle cx="314.5" cy="544.3" r="2.5" fill="#fff" stroke="#000" stroke-width="1.9"/>
<circle cx="344.3" cy="526.1" r="2.5" fill="#8c8c8c" stroke="#000" stroke-width="1.9"/>
<circle cx="332.8" cy="533.7" r="2.5" fill="#8c8c8c" stroke="#000" stroke-width="1.9"/>
<circle cx="340.5" cy="532.2" r="2.5" fill="#8c8c8c" stroke="#000" stroke-width="1.9"/>
<circle cx="348.1" cy="532.8" r="2.5" fill="#8c8c8c" stroke="#000" stroke-width="1.9"/>
<circle cx="355.2" cy="531.8" r="2.5" fill="#8c8c8c" stroke="#000" stroke-width="1.9"/>
<circle cx="355.2" cy="537.6" r="2.5" fill="#8c8c8c" stroke="#000" stroke-width="1.9"/>
<circle cx="332.8" cy="543" r="2.5" fill="#8c8c8c" stroke="#000" stroke-width="1.9"/>
<circle cx="347.6" cy="541.8" r="2.5" fill="#8c8c8c" stroke="#000" stroke-width="1.9"/>
<line x1="303.4" y1="525.1" x2="303.4" y2="538.5" stroke="#000" stroke-width="1.6" stroke-linecap="butt"/>
<line x1="296.2" y1="525.1" x2="310.59999999999997" y2="525.1" stroke="#000" stroke-width="1.6" stroke-linecap="butt"/>
<line x1="296.2" y1="538.5" x2="310.59999999999997" y2="538.5" stroke="#000" stroke-width="1.6" stroke-linecap="butt"/>
<line x1="344.3" y1="531" x2="344.3" y2="538" stroke="#000" stroke-width="1.6" stroke-linecap="butt"/>
<line x1="337.3" y1="531" x2="351.3" y2="531" stroke="#000" stroke-width="1.6" stroke-linecap="butt"/>
<line x1="337.3" y1="538" x2="351.3" y2="538" stroke="#000" stroke-width="1.6" stroke-linecap="butt"/>
<circle cx="293.7" cy="443" r="2.7" fill="#fff" stroke="#000" stroke-width="1.8"/>
<circle cx="293.7" cy="454" r="2.7" fill="#8c8c8c" stroke="#000" stroke-width="1.8"/>
<text x="309.6" y="445.8" font-size="10" font-weight="bold" text-anchor="start" textLength="91.3" lengthAdjust="spacingAndGlyphs" >IL-4Ra -/- (BM) - WT</text>
<text x="309.6" y="457" font-size="10" font-weight="bold" text-anchor="start" textLength="94" lengthAdjust="spacingAndGlyphs" >WT&#160; (BM) - IL-4Ra -/-</text>
<text x="234.7" y="421.6" font-size="12.6" font-weight="bold" text-anchor="start" >F</text>
<text transform="translate(244.4,507.8) rotate(-90)" x="0" y="0" font-size="11.2" font-weight="bold" text-anchor="middle" textLength="59.2" lengthAdjust="spacingAndGlyphs">ALT&#160; (IU/ml)</text>
</svg>
</body></html>
